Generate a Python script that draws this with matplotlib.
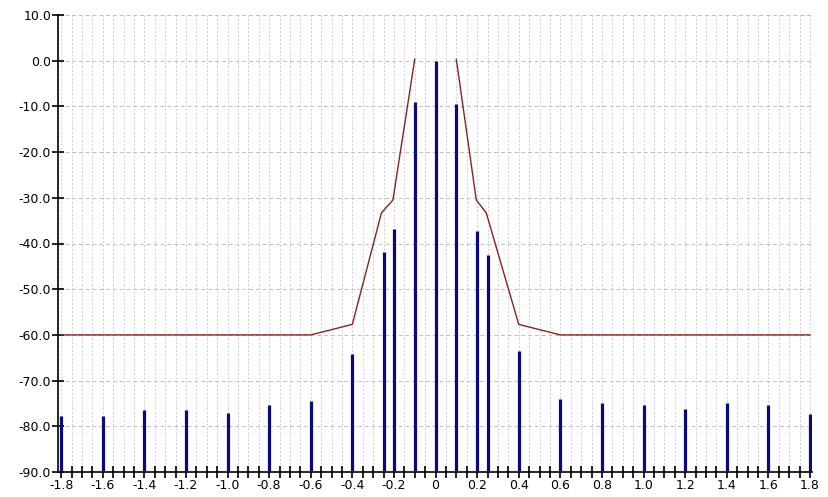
#!/usr/bin/env python3
# Spectrum stems with an emission mask overlay, recreated from a screenshot.

import numpy as np
import matplotlib
matplotlib.use('Agg')
import matplotlib.pyplot as plt
from matplotlib.ticker import MultipleLocator, FuncFormatter

plt.rcParams['font.family'] = ['DejaVu Sans']

# spectral lines (offset, level)
line_x = [-1.8, -1.6, -1.4, -1.2, -1.0, -0.8, -0.6, -0.4, -0.25, -0.2, -0.1,
          0.0, 0.1, 0.2, 0.25, 0.4, 0.6, 0.8, 1.0, 1.2, 1.4, 1.6, 1.8]
line_y = [-77.7, -77.7, -76.5, -76.5, -77.0, -75.3, -74.4, -64.2, -41.9, -36.9, -9.0,
          0.0, -9.5, -37.2, -42.6, -63.6, -74.1, -75.0, -75.3, -76.2, -75.0, -75.3, -77.3]

# mask, left and right halves (no segment across the top)
mask_left_x = [-1.8, -0.6, -0.4, -0.26, -0.205, -0.1]
mask_left_y = [-60.0, -60.0, -57.7, -33.3, -30.5, 0.3]
mask_right_x = [0.1, 0.196, 0.244, 0.4, 0.6, 1.8]
mask_right_y = [0.3, -30.5, -33.3, -57.7, -60.0, -60.0]

fig = plt.figure(figsize=(8.29, 4.97), dpi=100)
ax = fig.add_axes([58 / 829, 1 - 472 / 497, (812 - 58) / 829, (472 - 15) / 497])

ax.set_xlim(-1.815, 1.81)
ax.set_ylim(-90, 10)

# grid: dotted verticals every 0.05, dashed horizontals every 10
for gx in np.arange(-36, 37) * 0.05:
    ax.plot([gx, gx], [-90, 10], color='#cdcdcd', linewidth=0.7,
            linestyle=(0, (2, 2)), zorder=0)
for gy in np.arange(-80, 11, 10):
    ax.axhline(gy, color='#c0c0c0', linewidth=0.7, linestyle=(0, (4, 3)), zorder=0)

ax.vlines(line_x, -90, line_y, color='#0a0a7a', linewidth=2.3, zorder=3)
ax.plot(mask_left_x, mask_left_y, color='#8b2020', linewidth=1.0, zorder=4)
ax.plot(mask_right_x, mask_right_y, color='#8b2020', linewidth=1.0, zorder=4)

for side in ('top', 'right'):
    ax.spines[side].set_visible(False)
ax.spines['left'].set_linewidth(1.2)
ax.spines['bottom'].set_linewidth(1.2)

ax.xaxis.set_major_locator(MultipleLocator(0.2))
ax.xaxis.set_minor_locator(MultipleLocator(0.05))
ax.yaxis.set_major_locator(MultipleLocator(10))
ax.xaxis.set_major_formatter(FuncFormatter(lambda v, p: '0' if abs(v) < 1e-9 else f'{v:.1f}'))
ax.yaxis.set_major_formatter(FuncFormatter(lambda v, p: f'{v:.1f}'))

ax.tick_params(axis='both', which='both', direction='inout', length=8, width=1.2,
               labelsize=9, colors='black', pad=1)

fig.savefig('out.png', dpi=100)
